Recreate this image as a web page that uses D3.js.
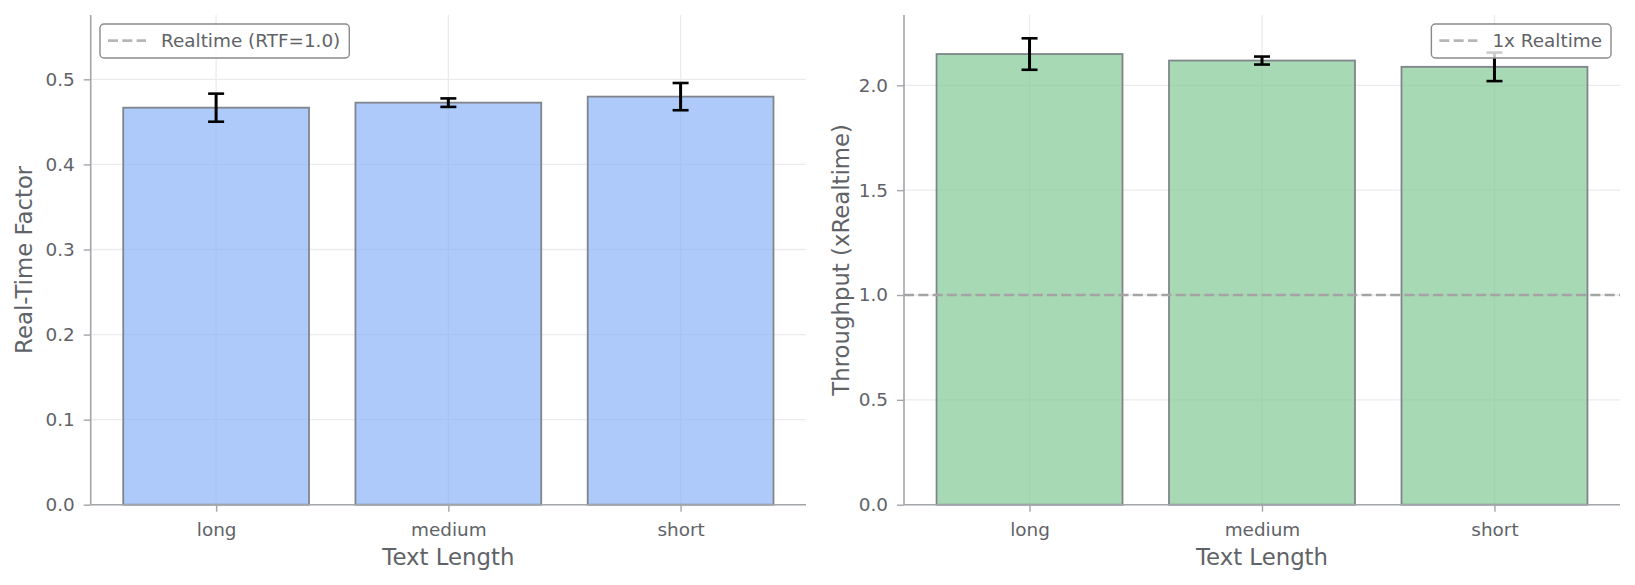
<!DOCTYPE html>
<html>
<head>
<meta charset="utf-8">
<script src="https://cdn.jsdelivr.net/npm/d3@7"></script>
<style>
  body { margin: 0; background: #fff; }
  svg { display: block; font-family: "DejaVu Sans", sans-serif; }
</style>
</head>
<body>
<div id="chart"></div>
<script>
// data
var categories = ["long", "medium", "short"];
var rtfMean = [0.4667, 0.4726, 0.4797];
var rtfStd = [0.0165, 0.0050, 0.0160];
var thrMean = [2.149, 2.118, 2.088];
var thrStd = [0.075, 0.019, 0.068];
var rtfTicks = [0.0, 0.1, 0.2, 0.3, 0.4, 0.5];
var thrTicks = [0.0, 0.5, 1.0, 1.5, 2.0];
var realtimeLine = 1.0;

var W = 1635, H = 585;
var axTop = 15, axBottom = 504.7;

var svg = d3.select("#chart").append("svg")
  .attr("width", W)
  .attr("height", H);

svg.append("rect").attr("width", W).attr("height", H).attr("fill", "#fff");

function panel(opts) {
  // matplotlib-style: slot of 1 unit, bar width 0.8, 0.05 margins on [-0.4, 2.4]
  var xl = d3.scaleLinear()
    .domain([-0.54, categories.length - 1 + 0.54])
    .range([opts.left, opts.right]);
  var barW = xl(0.8) - xl(0);

  var y = d3.scaleLinear()
    .domain([0, opts.ymax])
    .range([axBottom, axTop]);

  var g = svg.append("g");

  // grid
  g.append("g").selectAll("line")
    .data(opts.ticks)
    .enter().append("line")
      .attr("x1", opts.left).attr("x2", opts.right)
      .attr("y1", d => y(d)).attr("y2", d => y(d))
      .attr("stroke", "#ebebeb").attr("stroke-width", 1.3);
  g.append("g").selectAll("line")
    .data(categories)
    .enter().append("line")
      .attr("x1", (d, i) => xl(i)).attr("x2", (d, i) => xl(i))
      .attr("y1", axTop).attr("y2", axBottom)
      .attr("stroke", "#ebebeb").attr("stroke-width", 1.3);

  // bars
  g.append("g").selectAll("rect")
    .data(opts.mean)
    .enter().append("rect")
      .attr("x", (d, i) => xl(i) - barW / 2)
      .attr("width", barW)
      .attr("y", d => y(d))
      .attr("height", d => y(0) - y(d))
      .attr("fill", opts.color)
      .attr("fill-opacity", 0.7)
      .attr("stroke", "#80858b")
      .attr("stroke-width", 1.8);

  // realtime line (only visible if inside the y range)
  if (realtimeLine <= opts.ymax) {
    g.append("line")
      .attr("x1", opts.left).attr("x2", opts.right)
      .attr("y1", y(realtimeLine)).attr("y2", y(realtimeLine))
      .attr("stroke", "#a4a4a4")
      .attr("stroke-width", 2.7)
      .attr("stroke-dasharray", "10,4.3");
  }

  // error bars
  var eb = g.append("g").selectAll("g")
    .data(opts.mean)
    .enter().append("g");
  eb.append("line")
    .attr("x1", (d, i) => xl(i)).attr("x2", (d, i) => xl(i))
    .attr("y1", (d, i) => y(d - opts.std[i]))
    .attr("y2", (d, i) => y(d + opts.std[i]))
    .attr("stroke", "#000").attr("stroke-width", 3);
  eb.append("line")
    .attr("x1", (d, i) => xl(i) - 8).attr("x2", (d, i) => xl(i) + 8)
    .attr("y1", (d, i) => y(d - opts.std[i]))
    .attr("y2", (d, i) => y(d - opts.std[i]))
    .attr("stroke", "#000").attr("stroke-width", 2.6);
  eb.append("line")
    .attr("x1", (d, i) => xl(i) - 8).attr("x2", (d, i) => xl(i) + 8)
    .attr("y1", (d, i) => y(d + opts.std[i]))
    .attr("y2", (d, i) => y(d + opts.std[i]))
    .attr("stroke", "#000").attr("stroke-width", 2.6);

  // axes
  var yAxis = g.append("g")
    .attr("transform", `translate(${opts.left},0)`)
    .call(d3.axisLeft(y).tickValues(opts.ticks).tickFormat(d3.format(".1f"))
      .tickSize(7).tickPadding(9).tickSizeOuter(0));
  var xAxis = g.append("g")
    .attr("transform", `translate(0,${axBottom})`)
    .call(d3.axisBottom(xl).tickValues(d3.range(categories.length))
      .tickFormat(i => categories[i]).tickSize(7).tickPadding(11).tickSizeOuter(0));

  [yAxis, xAxis].forEach(function(a) {
    a.select(".domain").attr("stroke", "#a2a5a9").attr("stroke-width", 1.6);
    a.selectAll(".tick line").attr("stroke", "#a2a5a9").attr("stroke-width", 1.4);
    a.selectAll(".tick text")
      .attr("fill", "#5f6368")
      .style("font-size", "18.4px")
      .style("font-family", "DejaVu Sans");
  });
  // spines run the full axes box
  yAxis.select(".domain").attr("d", `M0,${axTop}V${axBottom}`);
  xAxis.select(".domain").attr("d", `M${opts.left},0H${opts.right}`);

  // axis labels
  g.append("text")
    .attr("x", (opts.left + opts.right) / 2)
    .attr("y", 565)
    .attr("text-anchor", "middle")
    .attr("fill", "#5f6368")
    .style("font-size", "22.8px")
    .text("Text Length");
  g.append("text")
    .attr("transform", `translate(${opts.ylabelX},${(axTop + axBottom) / 2}) rotate(-90)`)
    .attr("text-anchor", "middle")
    .attr("fill", "#5f6368")
    .style("font-size", "22.8px")
    .text(opts.ylabel);

  // legend
  var lg = g.append("g");
  var lx = opts.legendLeft;
  var box = lg.append("rect")
    .attr("y", 24).attr("height", 34)
    .attr("rx", 4)
    .attr("fill", "#fff").attr("fill-opacity", 0.8)
    .attr("stroke", "#8a8a8a").attr("stroke-width", 1.4);
  var sample = lg.append("line")
    .attr("y1", 40.7).attr("y2", 40.7)
    .attr("stroke", "#a4a4a4").attr("stroke-opacity", 0.8)
    .attr("stroke-width", 2.7)
    .attr("stroke-dasharray", "10,4.3");
  var txt = lg.append("text")
    .attr("y", 46.7)
    .attr("fill", "#5f6368")
    .style("font-size", "18.4px")
    .text(opts.legend);
  var tw = txt.node().getComputedTextLength();
  var bw = tw + 70;
  if (opts.legendRight != null) lx = opts.legendRight - bw;
  box.attr("x", lx).attr("width", bw);
  sample.attr("x1", lx + 8).attr("x2", lx + 46);
  txt.attr("x", lx + 61);
}

panel({
  left: 90.7, right: 806,
  mean: rtfMean, std: rtfStd,
  ymax: d3.max(rtfMean) * 1.2,
  ticks: rtfTicks,
  color: "#8ab4f8",
  ylabel: "Real-Time Factor",
  ylabelX: 32,
  legend: "Realtime (RTF=1.0)",
  legendLeft: 100
});

panel({
  left: 904, right: 1620,
  mean: thrMean, std: thrStd,
  ymax: d3.max(thrMean.map((d, i) => d + thrStd[i])) * 1.05,
  ticks: thrTicks,
  color: "#81c995",
  ylabel: "Throughput (xRealtime)",
  ylabelX: 849,
  legend: "1x Realtime",
  legendRight: 1611
});
</script>
</body>
</html>
